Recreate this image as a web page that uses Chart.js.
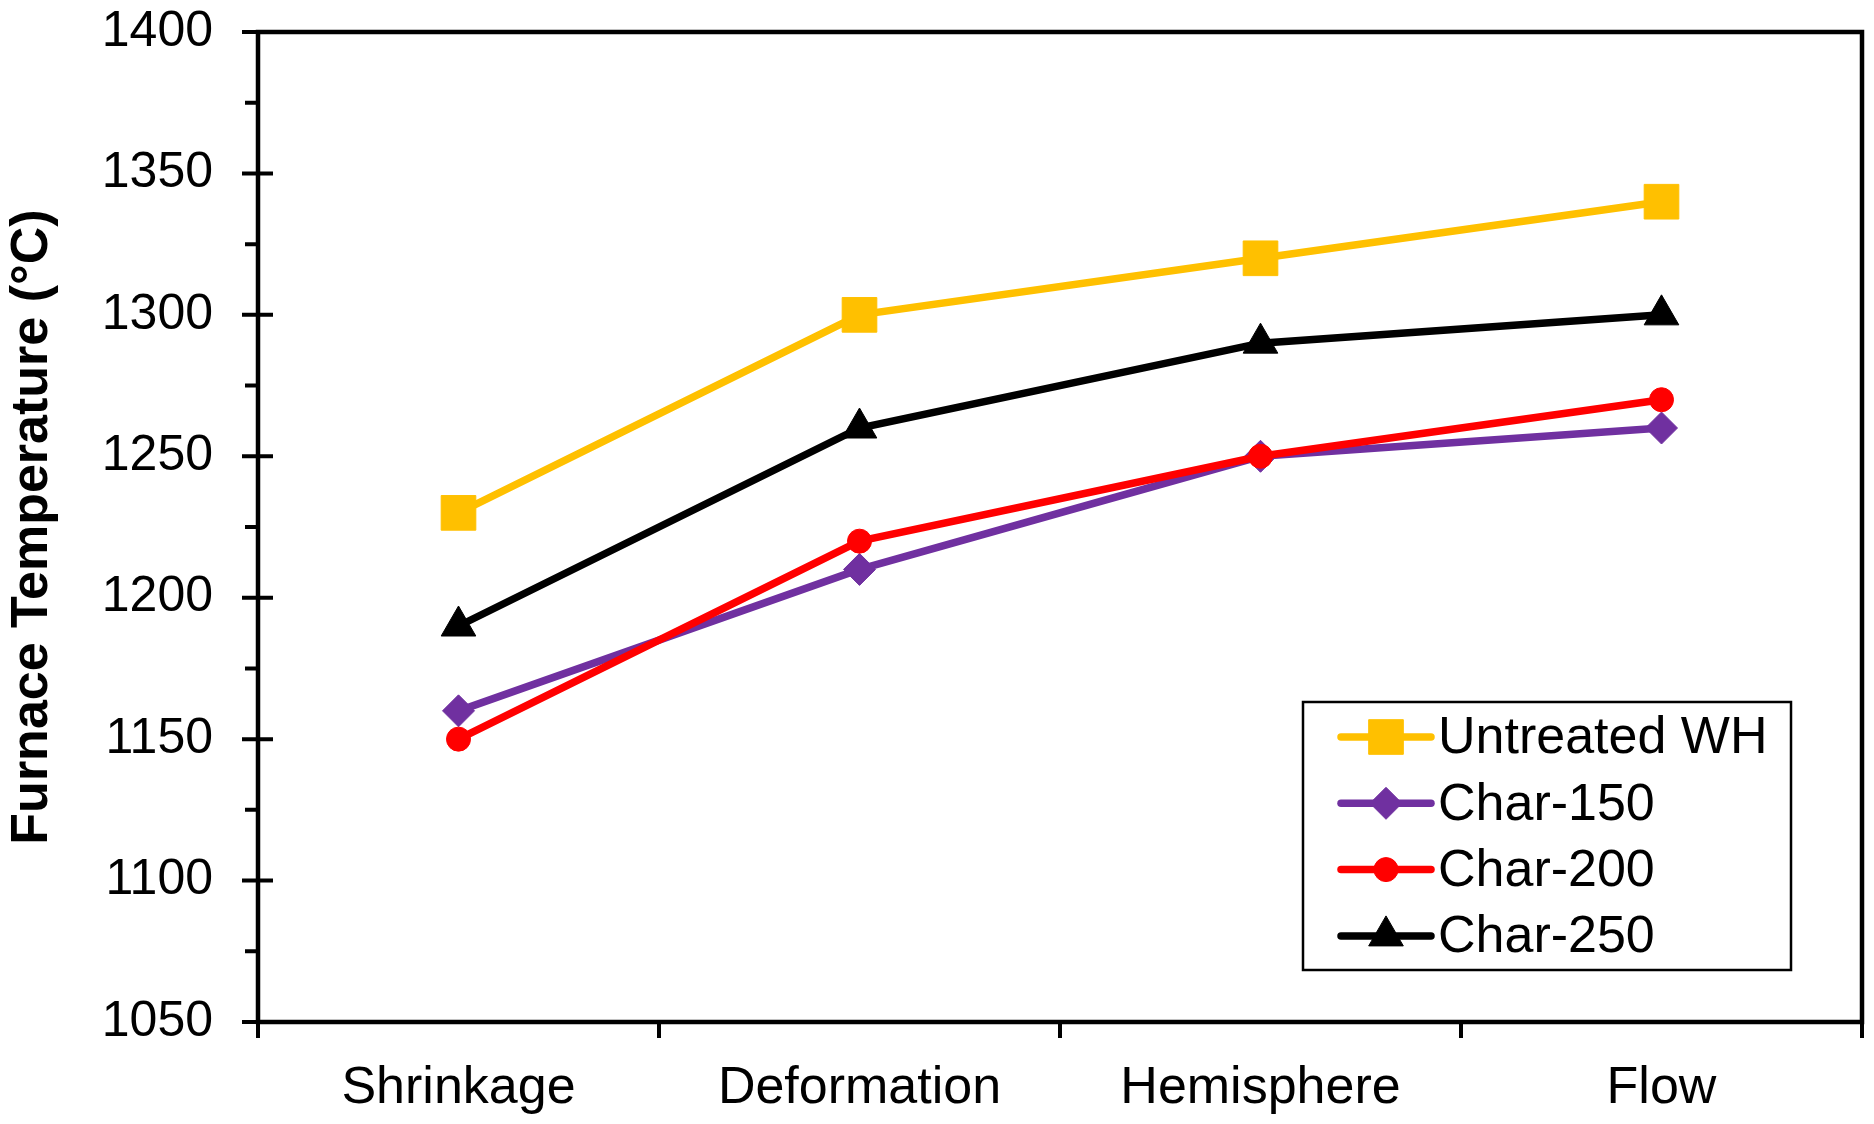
<!DOCTYPE html>
<html>
<head>
<meta charset="utf-8">
<script src="https://cdn.jsdelivr.net/npm/chart.js@4.4.1/dist/chart.umd.min.js"></script>
<style>
  html, body { margin: 0; padding: 0; background: #fff; overflow: hidden; }
  #wrap { width: 1874px; height: 1124px; }
  canvas { display: block; }
</style>
</head>
<body>
<div id="wrap"><canvas id="grafica" width="1874" height="1124"></canvas></div>
<script>
// datos
const categorias = ['Shrinkage', 'Deformation', 'Hemisphere', 'Flow'];
const untreatedWH = [1230, 1300, 1320, 1340];
const char150 = [1160, 1210, 1250, 1260];
const char200 = [1150, 1220, 1250, 1270];
const char250 = [1190, 1260, 1290, 1300];

const yMin = 1050, yMax = 1400, yStep = 50, yMinor = 25;

const fuente = '"Liberation Sans", Arial, sans-serif';

function serie(label, data, color, estilo, radio, orden) {
  return {
    label: label,
    data: data,
    borderColor: color,
    backgroundColor: color,
    borderWidth: 7.5,
    pointStyle: estilo,
    pointRadius: radio,
    pointHoverRadius: radio,
    pointBackgroundColor: color,
    pointBorderColor: color,
    pointBorderWidth: 1,
    tension: 0,
    order: orden
  };
}

// sin relleno extra de las escalas, el area la fija layout.padding
function sinRelleno(s) {
  s.paddingTop = 0; s.paddingBottom = 0; s.paddingLeft = 0; s.paddingRight = 0;
}

// el layout deja un margen derecho de 25px que no se puede quitar con padding
const margenDerecho = {
  id: 'margenDerecho',
  afterLayout(chart) {
    const a = chart.chartArea, x = chart.scales.x;
    const r = chart.width - 12;
    a.right = r;
    a.width = r - a.left;
    x.right = r;
    x.width = r - x.left;
    x.configure();
  }
};

// marco del area, marcas de los ejes
const marco = {
  id: 'marco',
  afterDatasetsDraw(chart) {
    const ctx = chart.ctx, a = chart.chartArea;
    const ys = chart.scales.y, xs = chart.scales.x;
    ctx.save();
    ctx.strokeStyle = '#000';
    ctx.lineWidth = 4.5;
    ctx.strokeRect(a.left, a.top, a.right - a.left, a.bottom - a.top);
    ctx.lineWidth = 4;
    ctx.beginPath();
    for (let v = yMin; v <= yMax; v += yMinor) {
      const y = ys.getPixelForValue(v);
      if ((v - yMin) % yStep === 0) {
        ctx.moveTo(a.left - 16, y); ctx.lineTo(a.left + 15, y);
      } else {
        ctx.moveTo(a.left - 13, y); ctx.lineTo(a.left, y);
      }
    }
    for (let i = 0; i <= categorias.length; i++) {
      const x = xs.getPixelForValue(i - 0.5);
      ctx.moveTo(x, a.bottom); ctx.lineTo(x, a.bottom + 16);
    }
    ctx.stroke();
    ctx.restore();
  }
};

// leyenda con linea y marcador
const leyenda = {
  id: 'leyenda',
  afterDraw(chart) {
    const ctx = chart.ctx, a = chart.chartArea;
    const x0 = a.right - 559, y0 = a.bottom - 320, w = 488, h = 268;
    ctx.save();
    ctx.fillStyle = '#fff';
    ctx.fillRect(x0, y0, w, h);
    ctx.strokeStyle = '#000';
    ctx.lineWidth = 2.5;
    ctx.strokeRect(x0, y0, w, h);
    chart.data.datasets.forEach((ds, i) => {
      const y = y0 + 35 + i * 66.3;
      ctx.strokeStyle = ds.borderColor;
      ctx.lineWidth = ds.borderWidth;
      ctx.lineCap = 'round';
      ctx.beginPath();
      ctx.moveTo(x0 + 38, y);
      ctx.lineTo(x0 + 128, y);
      ctx.stroke();
      ctx.lineCap = 'butt';
      ctx.fillStyle = ds.pointBackgroundColor;
      ctx.strokeStyle = ds.pointBorderColor;
      ctx.lineWidth = 1;
      Chart.helpers.drawPoint(ctx, { pointStyle: ds.pointStyle, radius: ds.pointRadius, rotation: 0, borderWidth: 1 }, x0 + 83, y);
      ctx.fillStyle = '#000';
      ctx.font = '52px ' + fuente;
      ctx.textAlign = 'left';
      ctx.textBaseline = 'middle';
      ctx.fillText(ds.label, x0 + 135, y + 2);
    });
    ctx.restore();
  }
};

const ctx = document.getElementById('grafica').getContext('2d');
new Chart(ctx, {
  type: 'line',
  data: {
    labels: categorias,
    datasets: [
      serie('Untreated WH', untreatedWH, '#FFC000', 'rect', 24.5, 4),
      serie('Char-150', char150, '#7030A0', 'rectRot', 16, 3),
      serie('Char-200', char200, '#FF0000', 'circle', 12, 2),
      serie('Char-250', char250, '#000000', 'triangle', 20, 1)
    ]
  },
  options: {
    responsive: false,
    animation: false,
    devicePixelRatio: 1,
    layout: { padding: { top: 32, right: 12, left: 0, bottom: 0 } },
    plugins: { legend: { display: false }, tooltip: { enabled: false } },
    scales: {
      x: {
        offset: true,
        grid: { display: false, offset: true, drawTicks: false },
        border: { display: false },
        ticks: { font: { family: fuente, size: 52 }, color: '#000', padding: 35, maxRotation: 0 },
        afterFit: s => { s.height = 102; sinRelleno(s); }
      },
      y: {
        min: yMin,
        max: yMax,
        grid: { display: false, drawTicks: false },
        border: { display: false },
        ticks: {
          stepSize: yStep,
          font: { family: fuente, size: 50 },
          color: '#000',
          padding: 45,
          callback: v => String(v)
        },
        title: {
          display: true,
          text: 'Furnace Temperature (°C)',
          color: '#000',
          font: { family: fuente, size: 52, weight: 'bold' },
          padding: { top: 1, bottom: 0 }
        },
        afterFit: s => { s.width = 258; sinRelleno(s); }
      }
    }
  },
  plugins: [margenDerecho, marco, leyenda]
});
</script>
</body>
</html>
